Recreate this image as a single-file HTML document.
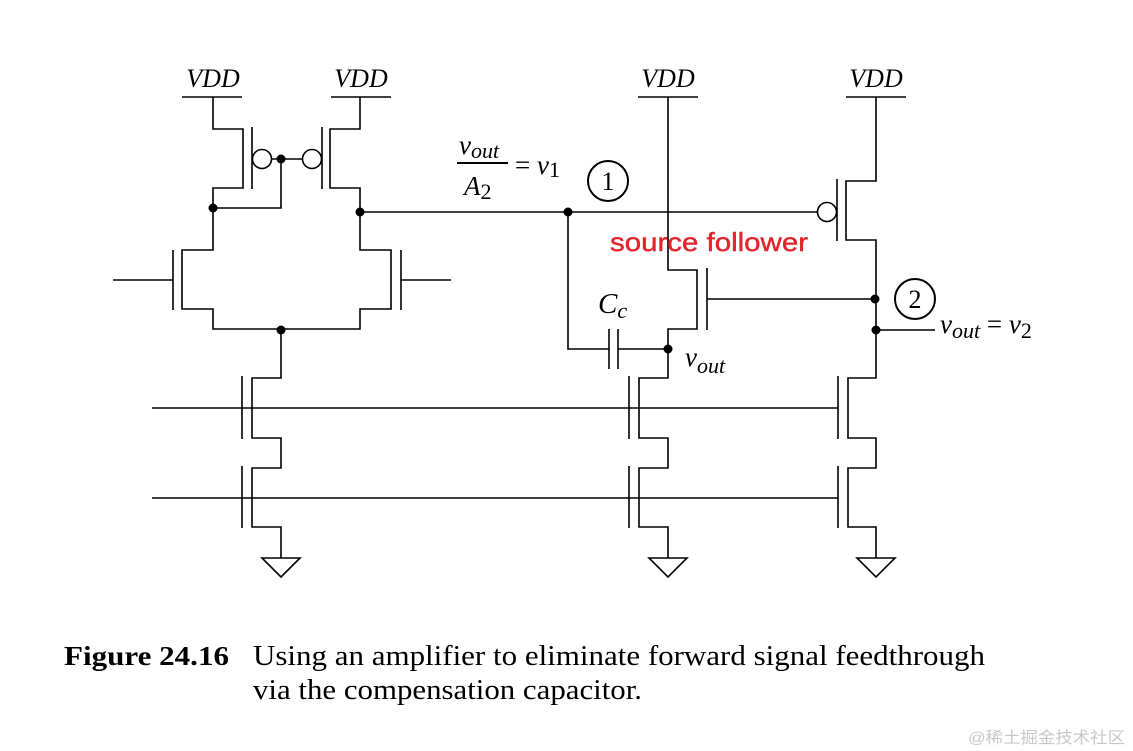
<!DOCTYPE html>
<html><head><meta charset="utf-8"><style>
html,body{margin:0;padding:0;background:#fff;width:1133px;height:751px;overflow:hidden}
svg{display:block}
.s{font-family:"Liberation Serif",serif;font-style:italic;fill:#000}
.r{font-family:"Liberation Serif",serif;fill:#000}
</style></head><body>
<svg width="1133" height="751" viewBox="0 0 1133 751" xmlns="http://www.w3.org/2000/svg">
<g stroke="#000" stroke-width="1.6" fill="none">
<line x1="182" y1="97" x2="242" y2="97"/>
<line x1="331" y1="97" x2="391" y2="97"/>
<line x1="638" y1="97" x2="698" y2="97"/>
<line x1="846" y1="97" x2="906" y2="97"/>
<polyline points="213,97 213,129 243,129 243,188 213,188 213,250 182,250 182,309 213,309 213,329 360,329 360,309 391,309 391,250 360,250 360,188 330,188 330,129 360,129 360,97"/>
<line x1="252" y1="127" x2="252" y2="189"/>
<line x1="322" y1="127" x2="322" y2="189"/>
<circle cx="262" cy="159" r="9.5"/>
<circle cx="312" cy="159" r="9.5"/>
<line x1="271" y1="159" x2="302" y2="159"/>
<polyline points="213,208 281,208 281,159"/>
<line x1="173" y1="250" x2="173" y2="310"/>
<line x1="113" y1="280" x2="173" y2="280"/>
<line x1="401" y1="250" x2="401" y2="310"/>
<line x1="401" y1="280" x2="451" y2="280"/>
<polyline points="281,329 281,378 252,378 252,438 281,438 281,468 252,468 252,527 281,527 281,558"/>
<line x1="242" y1="376" x2="242" y2="439"/>
<line x1="242" y1="466" x2="242" y2="528"/>
<polygon points="262,558 300,558 281,577"/>
<line x1="152" y1="408" x2="838" y2="408"/>
<line x1="152" y1="498" x2="838" y2="498"/>
<line x1="360" y1="212" x2="817" y2="212"/>
<polyline points="668,97 668,270 697,270 697,329 668,329 668,378 639,378 639,438 668,438 668,468 639,468 639,527 668,527 668,558"/>
<line x1="707" y1="268" x2="707" y2="330"/>
<line x1="707" y1="299" x2="875" y2="299"/>
<line x1="629" y1="376" x2="629" y2="439"/>
<line x1="629" y1="466" x2="629" y2="528"/>
<polygon points="649,558 687,558 668,577"/>
<polyline points="568,212 568,349 609,349"/>
<line x1="609" y1="329" x2="609" y2="369"/>
<line x1="618" y1="329" x2="618" y2="369"/>
<line x1="618" y1="349" x2="668" y2="349"/>
<polyline points="876,97 876,181 846,181 846,240 876,240 876,378 848,378 848,438 876,438 876,468 848,468 848,527 876,527 876,558"/>
<line x1="837" y1="179" x2="837" y2="241"/>
<circle cx="827" cy="212" r="9.5"/>
<line x1="838" y1="376" x2="838" y2="439"/>
<line x1="838" y1="466" x2="838" y2="528"/>
<polygon points="857,558 895,558 876,577"/>
<line x1="876" y1="330" x2="935" y2="330"/>
<circle cx="608" cy="181" r="20" stroke-width="2"/>
<circle cx="915" cy="299" r="20" stroke-width="2"/>
<line x1="457" y1="163" x2="508" y2="163" stroke-width="2"/>
</g>
<g fill="#000">
<circle cx="281" cy="159" r="4.5"/>
<circle cx="213" cy="208" r="4.5"/>
<circle cx="360" cy="212" r="4.5"/>
<circle cx="281" cy="330" r="4.5"/>
<circle cx="568" cy="212" r="4.5"/>
<circle cx="668" cy="349" r="4.5"/>
<circle cx="875" cy="299" r="4.5"/>
<circle cx="876" cy="330" r="4.5"/>
</g>
<g class="s" font-size="26" text-anchor="middle">
<text x="213" y="87">VDD</text>
<text x="361" y="87">VDD</text>
<text x="668" y="87">VDD</text>
<text x="876" y="87">VDD</text>
</g>
<text class="r" x="608" y="190" font-size="26" text-anchor="middle">1</text>
<text class="r" x="915" y="308" font-size="26" text-anchor="middle">2</text>
<text class="s" x="459" y="154" font-size="27">v<tspan font-size="22" dy="4">out</tspan></text>
<text class="s" x="464" y="195" font-size="27">A<tspan class="r" font-style="normal" font-size="22" dy="4">2</tspan></text>
<text class="r" x="515" y="174" font-size="27">= <tspan font-style="italic">v</tspan><tspan font-size="22" dy="3">1</tspan></text>
<text class="s" x="598" y="313" font-size="29">C<tspan font-size="22" dy="5">c</tspan></text>
<text class="s" x="685" y="366" font-size="27">v<tspan font-size="22" dy="7">out</tspan></text>
<text class="s" x="940" y="333" font-size="27">v<tspan font-size="22" dy="5">out</tspan><tspan class="r" font-style="normal" font-size="27" dy="-5"> = </tspan>v<tspan class="r" font-style="normal" font-size="22" dy="5">2</tspan></text>
<text x="610" y="251" font-family="Liberation Sans, sans-serif" font-size="26" fill="#e3242b" stroke="#e3242b" stroke-width="0.4" textLength="198" lengthAdjust="spacingAndGlyphs">source follower</text>
<text class="r" x="64" y="665" font-size="27" font-weight="bold" textLength="165" lengthAdjust="spacingAndGlyphs">Figure 24.16</text>
<text class="r" x="253" y="665" font-size="28" textLength="732" lengthAdjust="spacingAndGlyphs">Using an amplifier to eliminate forward signal feedthrough</text>
<text class="r" x="253" y="699" font-size="28" textLength="389" lengthAdjust="spacingAndGlyphs">via the compensation capacitor.</text>
<text x="968" y="743" font-family="Liberation Sans, 'Noto Sans CJK SC', sans-serif" font-size="16" fill="#c8c8c8" textLength="157" lengthAdjust="spacingAndGlyphs">@稀土掘金技术社区</text>
</svg>
</body></html>
